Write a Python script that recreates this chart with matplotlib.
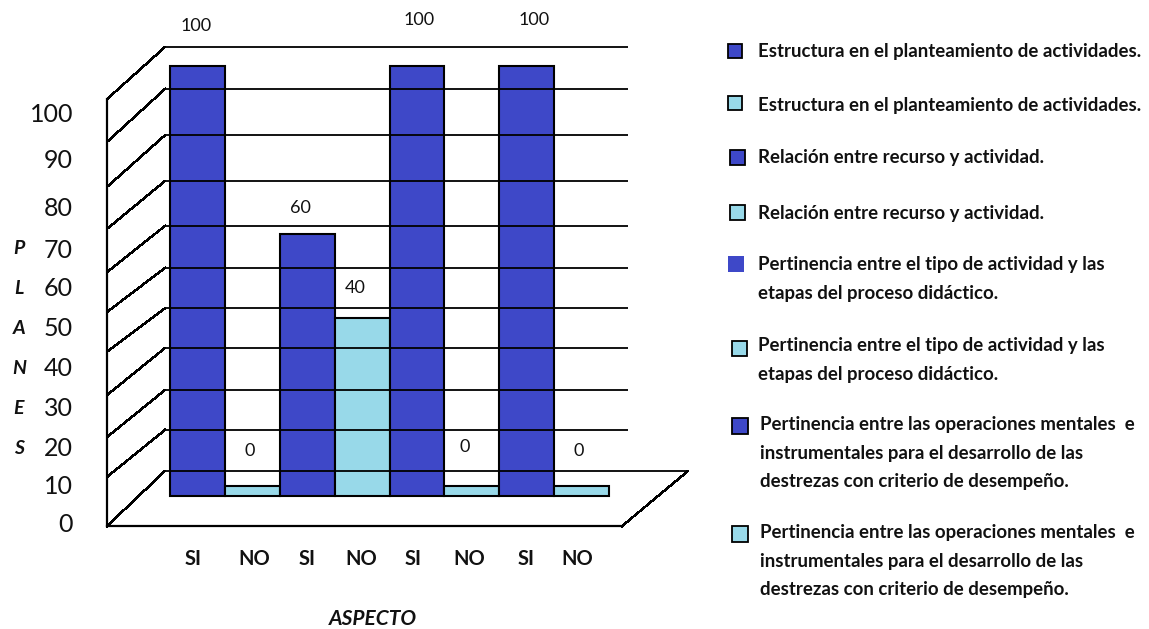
import matplotlib
matplotlib.use('Agg')
import matplotlib.pyplot as plt
from matplotlib.patches import Rectangle

plt.rcParams['font.family'] = ['Lato', 'DejaVu Sans']

# datos de las barras
categorias = ['SI', 'NO', 'SI', 'NO', 'SI', 'NO', 'SI', 'NO']
valores = [100, 0, 60, 40, 100, 0, 100, 0]
ticks_y = [0, 10, 20, 30, 40, 50, 60, 70, 80, 90, 100]

# niveles de la pared del fondo y de la cara frontal, trazados a mano en el grafico
niveles_fondo = [0, 9.7, 19.1, 29.0, 38.4, 47.9, 57.8, 68.4, 79.2, 90.1, 100]
niveles_frente = [-13.0, -1.4, 8.0, 17.9, 28.1, 37.5, 46.9, 57.1, 67.0, 77.6, 87.7]

titulo_y = list('PLANES')
titulo_x = 'ASPECTO'

t_estructura = 'Estructura en el planteamiento de actividades.'
t_relacion = 'Relación entre recurso y actividad.'
t_tipo = 'Pertinencia entre el tipo de actividad y las\netapas del proceso didáctico.'
t_oper = ('Pertinencia entre las operaciones mentales  e\n'
          'instrumentales para el desarrollo de las\n'
          'destrezas con criterio de desempeño.')
leyenda = [t_estructura, t_estructura, t_relacion, t_relacion, t_tipo, t_tipo, t_oper, t_oper]

AZUL = '#3E48C8'
CELESTE = '#98D9E9'
W, H = 1149, 629

fig = plt.figure(figsize=(W / 100, H / 100), dpi=100, facecolor='white')


def capa(zorder):
    a = fig.add_axes([0, 0, 1, 1], zorder=zorder)
    a.axis('off')
    a.patch.set_alpha(0)
    return a


# ---- barras: una unidad de x por barra, 4.2 px por unidad de y
ax_barras = capa(1)
ax_barras.set_xlim(-0.5 - 170 / 54.875, -0.5 + (W - 170) / 54.875)
ax_barras.set_ylim((486 - H) / 4.2, 486 / 4.2)

base = -2.4  # las barras nacen un poco por debajo del cero
x = list(range(len(valores)))
colores = [AZUL if c == 'SI' else CELESTE for c in categorias]
ax_barras.bar(x, [v - base for v in valores], width=1, bottom=base,
              color=colores, edgecolor='black', linewidth=1.5)

# etiquetas de valor, desplazadas en pixeles desde la punta de cada barra
dx_etiqueta = [-1, -3, -7, -7, 2, -7, 7, -3]
dy_etiqueta = [40, 35, 26, 30, 46, 39, 46, 35]
for xi, v, dx, dy in zip(x, valores, dx_etiqueta, dy_etiqueta):
    ax_barras.annotate(str(v), (xi, v), xytext=(dx, dy), textcoords='offset pixels',
                       ha='center', va='center', fontsize=13, color='#111111')

# SI / NO bajo cada barra, no quedan centrados del todo
dx_categoria = [-4, 2, 0, -1, -4, -3, -1, -4]
for xi, c, dx in zip(x, categorias, dx_categoria):
    ax_barras.annotate(c, (xi, -17.4), xytext=(dx, 0), textcoords='offset pixels',
                       ha='center', va='center', fontsize=14.5, fontweight='bold',
                       color='#111111')

# ---- pared y piso: x en pixeles, y en unidades de la pared (4.24 px por unidad)
ax_pared = capa(2)
ax_pared.set_xlim(0, W)
ax_pared.set_ylim((471 - H) / 4.24, 471 / 4.24)

for i, (fondo, frente) in enumerate(zip(niveles_fondo, niveles_frente)):
    fin = 688 if i == 0 else 628
    ax_pared.plot([165, fin], [fondo, fondo], color='black', lw=1.3, solid_capstyle='butt')
    ax_pared.plot([107, 165], [frente, fondo], color='black', lw=1.0, antialiased=False)

ax_pared.plot([107, 107], [niveles_frente[0], niveles_frente[-1]], color='black', lw=1.6)
ax_pared.plot([107, 622], [niveles_frente[0], niveles_frente[0]], color='black', lw=1.6)
ax_pared.plot([622, 688], [niveles_frente[0], niveles_fondo[0]], color='black', lw=1.0, antialiased=False)

# ---- textos sueltos y leyenda, en pixeles de la figura
ax_txt = capa(3)
ax_txt.set_xlim(0, W)
ax_txt.set_ylim(H, 0)

y_ticks_px = [525, 486, 448, 408, 368, 328, 288, 251, 209, 161, 114]
for t, yp in zip(ticks_y, y_ticks_px):
    ax_txt.text(73, yp, str(t), ha='right', va='center', fontsize=18, color='#111111')

for letra, yp in zip(titulo_y, [249, 289, 328, 368, 408, 448]):
    ax_txt.text(19, yp, letra, ha='center', va='center', fontsize=14,
                fontweight='bold', style='italic', color='#111111')

ax_txt.text(373, 619, titulo_x, ha='center', va='center', fontsize=15,
            fontweight='bold', style='italic', color='#111111')

# cuadros de color y texto de cada entrada
cuadro_x = [728, 728, 730, 730, 728, 732, 732, 732]
cuadro_y = [51, 103, 157, 212, 264, 348, 426, 534]
cuadro_lado = [14, 14, 15, 15, 16, 15, 16, 16]
texto_x = [758, 758, 758, 758, 758, 758, 760, 760]
texto_y = [52, 105, 158, 213, 279, 360, 453, 561]
for i, etiqueta in enumerate(leyenda):
    color = AZUL if i % 2 == 0 else CELESTE
    borde = 'none' if i == 4 else 'black'
    lado = cuadro_lado[i]
    ax_txt.add_patch(Rectangle((cuadro_x[i], cuadro_y[i] - lado / 2), lado, lado,
                               facecolor=color, edgecolor=borde, linewidth=1.3))
    ax_txt.text(texto_x[i], texto_y[i], etiqueta, ha='left', va='center', fontsize=13.4,
                fontweight='bold', color='#111111', linespacing=1.85)

fig.savefig('out.png', dpi=100)
